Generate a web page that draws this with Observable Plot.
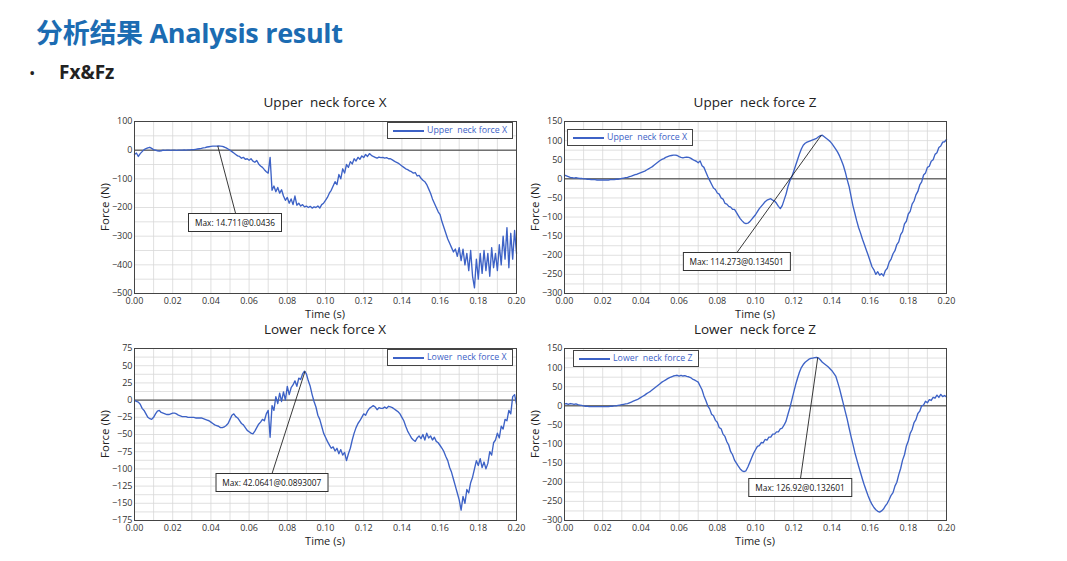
<!DOCTYPE html>
<html><head><meta charset="utf-8">
<script src="https://cdn.jsdelivr.net/npm/d3@7"></script>
<script src="https://cdn.jsdelivr.net/npm/@observablehq/plot@0.6"></script>
<style>
body{margin:0;background:#fff;}
#page{position:relative;width:1067px;height:561px;overflow:hidden;background:#fff;font-family:"Open Sans","Noto Sans",sans-serif;}
.abs{position:absolute;}
#title{left:36px;top:15px;font-size:27px;font-weight:700;color:#1c6cb2;font-family:"Open Sans","Noto Sans CJK SC",sans-serif;white-space:nowrap;letter-spacing:-0.3px;line-height:36px;}
#bullet{left:29px;top:61px;font-size:17px;color:#222;}
#sub{left:59px;top:59px;font-size:19px;font-weight:700;color:#222;}
.ptitle{font-size:13.5px;line-height:1;color:#222;white-space:pre;transform:translate(-50%,-50%);}
.xlab{font-size:11px;line-height:1;color:#222;white-space:nowrap;transform:translate(-50%,-50%);}
.ylab{font-size:11.5px;line-height:1;color:#222;white-space:nowrap;transform:translate(-50%,-50%) rotate(-90deg);}
.legend{border:1px solid #444;background:#fff;box-sizing:border-box;display:flex;align-items:center;font-size:8.8px;line-height:1;color:#3d62c6;white-space:pre;}
.legend .sw{display:inline-block;width:31px;height:0;border-top:2px solid #3d62c6;margin:0 3px 0 5px;}
.maxbox{border:1px solid #333;background:#fff;font-size:8.3px;color:#111;padding:3px 6px;white-space:nowrap;transform:translate(-50%,0);}
</style></head><body><div id="page">
<div id="title" class="abs">分析结果 Analysis result</div>
<div id="bullet" class="abs">•</div>
<div id="sub" class="abs">Fx&amp;Fz</div>
</div>
<script>
// sample times (s), one value every 0.001 s from 0.000 to 0.200
const time = d3.range(201).map(i => +(i * 0.001).toFixed(3));

// Upper neck force X (N)
const upperX = [
  -15, -10, -22, -12, -5, 2, 5, 8, 10, 6,
  2, 0, -2, -3, -2, 0, -1, 0, 0, -1,
  0, 0, -1, 0, 0, 0, 1, 0, 1, 1,
  2, 2, 3, 4, 5, 6, 8, 9, 11, 12,
  13, 14, 14, 14, 15, 14, 13, 11, 8, 4,
  0, -5, -10, -15, -20, -22, -28, -25, -32, -30,
  -35, -30, -38, -42, -36, -48, -55, -60, -68, -75,
  -80, -25, -140, -125, -145, -130, -150, -138, -160, -175,
  -165, -185, -170, -190, -160, -192, -185, -195, -190, -198,
  -195, -200, -196, -202, -198, -200, -195, -202, -190, -185,
  -175, -165, -150, -140, -125, -110, -120, -85, -100, -65,
  -80, -50, -60, -40, -48, -30, -38, -25, -32, -20,
  -26, -15, -22, -12, -18, -22, -25, -28, -24, -26,
  -25, -28, -26, -30, -30, -34, -38, -42, -45, -50,
  -55, -60, -65, -68, -72, -75, -80, -78, -90, -88,
  -98, -105, -110, -120, -135, -150, -170, -185, -200, -215,
  -225, -250, -270, -290, -310, -325, -340, -355, -345, -370,
  -340, -385, -345, -400, -360, -420, -350, -440, -480, -380,
  -450, -360, -430, -350, -420, -360, -440, -340, -410, -360,
  -420, -330, -400, -300, -380, -270, -410, -290, -380, -280,
  -360
];

// Upper neck force Z (N)
const upperZ = [
  10, 8, 6, 4, 3, 2, 3, 2, 1, 1,
  0, 0, -1, -1, -2, -2, -2, -3, -3, -3,
  -3, -3, -3, -3, -2, -2, -2, -1, -1, 0,
  1, 2, 3, 4, 6, 7, 9, 11, 12, 14,
  16, 18, 20, 23, 26, 29, 32, 36, 40, 44,
  48, 51, 53, 56, 58, 60, 61, 62, 62, 61,
  58, 56, 55, 56, 57, 56, 54, 51, 48, 46,
  42, 47, 34, 30, 18, 6, -4, -14, -24, -28,
  -37, -40, -50, -53, -64, -66, -72, -74, -80, -80,
  -88, -96, -104, -110, -115, -117, -116, -112, -106, -100,
  -94, -86, -78, -72, -66, -60, -56, -54, -52, -56,
  -58, -64, -72, -78, -70, -55, -40, -20, -5, 5,
  20, 35, 50, 65, 78, 88, 93, 96, 98, 100,
  102, 104, 106, 110, 113, 114, 110, 106, 102, 98,
  92, 85, 78, 70, 60, 48, 35, 18, -2, -20,
  -45, -70, -90, -110, -128, -142, -158, -172, -186, -200,
  -215, -230, -238, -250, -243, -252, -248, -254, -240, -234,
  -218, -210, -196, -188, -172, -165, -146, -138, -118, -111,
  -92, -85, -66, -58, -42, -33, -16, -8, 10, 15,
  30, 33, 46, 50, 64, 68, 82, 86, 96, 97,
  103
];

// Lower neck force X (N)
const lowerX = [
  0, -2, -3, -6, -12, -15, -20, -25, -27, -28,
  -25, -20, -16, -15, -18, -19, -20, -21, -21, -20,
  -19, -19, -20, -22, -23, -24, -24, -24, -25, -25,
  -25, -25, -26, -26, -26, -26, -27, -28, -29, -30,
  -32, -34, -36, -37, -38, -40, -40, -39, -37, -34,
  -28, -22, -20, -24, -26, -30, -34, -36, -40, -44,
  -46, -48, -49, -45, -40, -35, -32, -28, -30, -20,
  -15, -54, -8, -15, 5, -5, 10, -2, 12, 0,
  20, 8, 18, 22, 28, 20, 32, 30, 38, 42,
  38, 28, 20, 8, -2, -10, -22, -28, -38, -48,
  -54, -60, -65, -70, -68, -74, -70, -78, -72, -80,
  -76, -88, -78, -70, -58, -48, -40, -34, -30, -25,
  -20, -22, -16, -12, -10, -8, -10, -14, -11, -12,
  -12, -10, -12, -9, -10, -11, -13, -15, -17, -20,
  -25, -30, -38, -45, -50, -55, -58, -60, -55, -52,
  -56, -50, -58, -48, -55, -52, -58, -54, -60, -62,
  -66, -70, -75, -82, -88, -98, -105, -115, -125, -135,
  -145, -160, -140, -150, -130, -135, -120, -112, -100, -88,
  -95, -85, -98, -90, -100, -92, -75, -80, -62, -58,
  -48, -55, -38, -42, -28, -30, -15, -20, 5, 8,
  -6
];

// Lower neck force Z (N)
const lowerZ = [
  5, 6, 4, 6, 5, 4, 5, 3, 2, 1,
  0, -1, -1, -2, -2, -2, -2, -2, -2, -2,
  -2, -2, -2, -2, -1, -1, 0, 0, 1, 2,
  3, 4, 5, 6, 8, 10, 12, 14, 16, 19,
  22, 25, 28, 32, 35, 38, 42, 46, 50, 54,
  58, 62, 65, 68, 71, 74, 76, 78, 79, 80,
  78, 80, 78, 79, 77, 76, 74, 70, 68, 65,
  62, 52, 42, 26, 14, 0, -8, -22, -26, -38,
  -43, -57, -60, -74, -80, -94, -103, -120, -128, -142,
  -150, -158, -165, -170, -172, -170, -160, -148, -136, -124,
  -115, -106, -104, -96, -97, -88, -90, -82, -82, -74,
  -74, -68, -68, -60, -58, -50, -40, -22, -5, 15,
  35, 55, 72, 88, 100, 108, 114, 118, 122, 124,
  125, 126, 127, 125, 120, 114, 110, 106, 102, 97,
  92, 85, 78, 62, 45, 25, 5, -15, -35, -58,
  -80, -100, -122, -140, -158, -175, -192, -208, -222, -236,
  -248, -258, -266, -272, -276, -278, -275, -270, -262, -255,
  -245, -234, -227, -210, -200, -180, -164, -142, -128, -105,
  -92, -72, -62, -44, -36, -20, -14, 0, 2, 12,
  8, 16, 14, 22, 20, 28, 22, 30, 24, 27,
  23
];

const series = [upperX, upperZ, lowerX, lowerZ];
const panelTitles = ["Upper  neck force X", "Upper  neck force Z", "Lower  neck force X", "Lower  neck force Z"];
const legendLabels = ["Upper  neck force X", "Upper  neck force X", "Lower  neck force X", "Lower  neck force Z"];
const xLabel = "Time (s)";
const yLabel = "Force (N)";
const yDomains = [[-500, 100], [-300, 150], [-175, 75], [-300, 150]];
const yTickSteps = [100, 50, 25, 50];
const maxLabels = ["Max: 14.711@0.0436", "Max: 114.273@0.134501", "Max: 42.0641@0.0893007", "Max: 126.92@0.132601"];
const maxT = [0.0436, 0.134501, 0.0893007, 0.132601];
const maxF = [14.711, 114.273, 42.0641, 126.92];
// where each leader line meets the top of its label box (data units)
const labelT = [0.0529, 0.0904, 0.0721, 0.1236];
const labelF = [-220, -192, -106, -189];

// layout (pixels)
const svgLeft = [90, 520, 90, 520];
const svgTop = [92, 92, 319, 319];
const W = 440, H = 231, mL = 44, mR = 14, mT = 29, mB = 30;
const legendRight = [true, false, true, false];

const page = document.getElementById("page");
const lineColor = "#3d62c6";

function addDiv(cls, text, left, top) {
  const d = document.createElement("div");
  d.className = "abs " + cls;
  d.textContent = text;
  d.style.left = left + "px";
  d.style.top = top + "px";
  page.appendChild(d);
  return d;
}

series.forEach((vals, k) => {
  const data = vals.map((f, i) => ({t: time[i], f}));
  const [lo, hi] = yDomains[k];
  const step = yTickSteps[k];
  const yTicks = d3.range(lo, hi + step / 10, step);
  const yGrid = d3.range(lo, hi + step / 10, step / 2);
  const xGrid = d3.range(0, 21).map(i => i / 100);
  const chart = Plot.plot({
    width: W, height: H,
    marginLeft: mL, marginRight: mR, marginTop: mT, marginBottom: mB,
    style: {fontFamily: "'Open Sans', sans-serif", fontSize: "9px", color: "#333", background: "transparent", overflow: "visible"},
    x: {domain: [0, 0.2]},
    y: {domain: [lo, hi]},
    marks: [
      Plot.gridX(xGrid, {stroke: "#d8d8d8", strokeOpacity: 1, strokeWidth: 0.8}),
      Plot.gridY(yGrid, {stroke: "#d8d8d8", strokeOpacity: 1, strokeWidth: 0.8}),
      Plot.ruleY([0], {stroke: "#333", strokeWidth: 1}),
      Plot.line(data, {x: "t", y: "f", stroke: lineColor, strokeWidth: 1.35}),
      Plot.link([0], {x1: () => maxT[k], y1: () => maxF[k], x2: () => labelT[k], y2: () => labelF[k], stroke: "#222", strokeWidth: 0.9}),
      Plot.frame({stroke: "#444", strokeWidth: 1}),
      Plot.axisX({ticks: 10, tickFormat: d3.format(".2f"), tickSize: 0, tickPadding: 4, label: null, fontSize: 9}),
      Plot.axisY({ticks: yTicks, tickFormat: d3.format("d"), tickSize: 0, tickPadding: 2, label: null, fontSize: 9})
    ]
  });
  const wrap = document.createElement("div");
  wrap.className = "abs";
  wrap.style.left = svgLeft[k] + "px";
  wrap.style.top = svgTop[k] + "px";
  wrap.appendChild(chart);
  page.appendChild(wrap);

  const sx = chart.scale("x"), sy = chart.scale("y");
  const cx = svgLeft[k] + (mL + W - mR) / 2;
  addDiv("ptitle", panelTitles[k], cx, svgTop[k] + 11);
  addDiv("xlab", xLabel, cx, svgTop[k] + H - mB + 19.5);
  addDiv("ylab", yLabel, svgLeft[k] + 15, svgTop[k] + (mT + H - mB) / 2);

  // legend
  const lg = document.createElement("div");
  lg.className = "abs legend";
  lg.innerHTML = '<span class="sw"></span>' + legendLabels[k];
  lg.style.width = "126px";
  lg.style.height = "17px";
  if (legendRight[k]) {
    lg.style.left = (svgLeft[k] + W - mR - 129) + "px";
    lg.style.top = (svgTop[k] + mT + 1) + "px";
  } else {
    lg.style.left = (svgLeft[k] + mL + (k === 1 ? 3 : 9)) + "px";
    lg.style.top = (svgTop[k] + mT + (k === 1 ? 8 : 2)) + "px";
  }
  page.appendChild(lg);
  // max label box
  addDiv("maxbox", maxLabels[k], svgLeft[k] + sx.apply(labelT[k]), svgTop[k] + sy.apply(labelF[k]));
});
</script>
</body></html>
